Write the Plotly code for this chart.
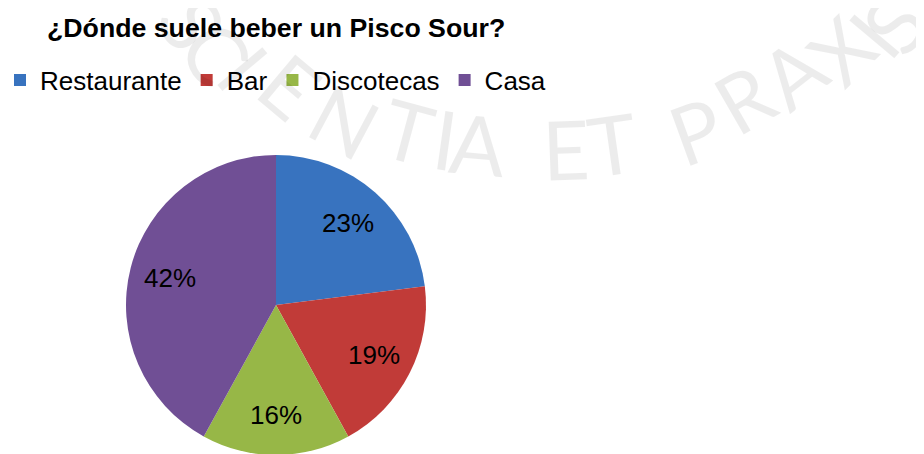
import math
import plotly.graph_objects as go

categories = ["Restaurante", "Bar", "Discotecas", "Casa"]
values = [23, 19, 16, 42]
colors = ["#3873bf", "#c13b38", "#97b747", "#704f95"]
title_text = "¿Dónde suele beber un Pisco Sour?"

# watermark letters (curved "SCIENTIA ET PRAXIS"), positions in screen px
wm_letters = ["S", "C", "I", "E", "N", "T", "I", "A", "E", "T", "P", "R", "A", "X", "I", "S"]
wm_x = [193, 217, 244, 290, 345, 408, 445, 478, 565, 612, 695, 743, 792, 840, 872, 893]
wm_y = [22, 52, 67, 85, 120, 130, 138, 143, 148, 143, 130, 98, 72, 50, 35, 24]
wm_angle = [60, 55, 50, 40, 28, 15, 8, 5, -2, -8, -20, -30, -38, -45, -50, -55]

W, H = 924, 454
OFF = 8      # page body margin
TOP = 100    # top margin of plot area

# pie geometry (screen px)
cx, cy, R = 276, 305, 150
LABEL_R = 0.73

def px(x):
    return (x - OFF) / W

def py(y):
    return (H - (y - OFF)) / (H - TOP)

def cy_(y):
    return 1 - (y - OFF) / H

fig = go.Figure()
fig.add_trace(go.Pie(
    labels=categories,
    values=values,
    sort=False,
    direction="clockwise",
    rotation=0,
    marker=dict(colors=colors, line=dict(width=0)),
    textinfo="none",
    domain=dict(x=[px(cx - R), px(cx + R)], y=[max(0, py(cy + R)), min(1, py(cy - R))]),
    hoverinfo="label+percent",
))

annotations = []
for ch, x, y, a in zip(wm_letters, wm_x, wm_y, wm_angle):
    annotations.append(dict(
        text=ch, x=px(x), y=py(y), xref="paper", yref="paper",
        showarrow=False, textangle=a, xanchor="center", yanchor="middle",
        font=dict(family="Lato, Open Sans, sans-serif", size=82, color="rgba(0,0,0,0.075)"),
    ))

# percent labels placed from the data (mid angle of each slice)
total = sum(values)
cum = 0
for v in values:
    mid = (cum + v / 2) / total * 2 * math.pi
    cum += v
    lx = cx + LABEL_R * R * math.sin(mid)
    ly = cy - LABEL_R * R * math.cos(mid)
    annotations.append(dict(
        text=f"{round(v / total * 100)}%", x=px(lx), y=py(ly), xref="paper", yref="paper",
        showarrow=False, xanchor="center", yanchor="middle",
        font=dict(family="Liberation Sans, Arial, sans-serif", size=26, color="black"),
    ))

fig.update_layout(
    width=W, height=H,
    margin=dict(l=0, r=0, t=TOP, b=0, autoexpand=False),
    paper_bgcolor="white",
    plot_bgcolor="white",
    title=dict(
        text=title_text, x=px(47), xanchor="left", xref="container",
        y=cy_(28), yanchor="middle", yref="container",
        font=dict(family="Liberation Sans, Arial, sans-serif", size=26.7, color="black", weight="bold"),
    ),
    legend=dict(
        orientation="h", x=-8 / W, y=py(80), xanchor="left", yanchor="middle",
        font=dict(family="Liberation Sans, Arial, sans-serif", size=26, color="black"),
        itemclick=False, traceorder="normal", bgcolor="rgba(0,0,0,0)",
    ),
    annotations=annotations,
    showlegend=True,
)

fig.write_html("out.html")
